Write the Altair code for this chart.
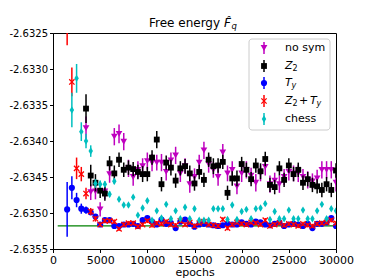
import altair as alt
import pandas as pd

# ---------------- data ----------------
ep_ty = list(range(1500, 30001, 500))
ep_z2ty = list(range(1500, 30001, 500))
ep_chess = list(range(2000, 30001, 500))
ep_z2 = list(range(3500, 30001, 500))
ep_nosym = list(range(3500, 30001, 500))

nosym_vals = [
    -2.63382, -2.63471, -2.63470, -2.63495, -2.63470, -2.63446, -2.63394, -2.63390, -2.63401, -2.63438,
    -2.63450, -2.63440, -2.63435, -2.63428, -2.63430, -2.63430, -2.63430, -2.63443, -2.63427, -2.63420,
    -2.63445, -2.63435, -2.63460, -2.63450, -2.63430, -2.63413, -2.63432, -2.63440, -2.63450, -2.63416,
    -2.63445, -2.63440, -2.63463, -2.63445, -2.63440, -2.63448, -2.63458, -2.63445, -2.63436, -2.63460,
    -2.63455, -2.63460, -2.63450, -2.63443, -2.63445, -2.63445, -2.63450, -2.63454, -2.63456, -2.63452,
    -2.63440, -2.63440, -2.63440, -2.63458]
nosym_err = [
    0.00016, 0.00011, 0.00011, 0.00010, 0.00011, 0.00012, 0.00012, 0.00013, 0.00012, 0.00012,
    0.00012, 0.00012, 0.00011, 0.00012, 0.00012, 0.00011, 0.00012, 0.00012, 0.00011, 0.00012,
    0.00012, 0.00011, 0.00012, 0.00012, 0.00011, 0.00012, 0.00012, 0.00011, 0.00012, 0.00012,
    0.00011, 0.00012, 0.00011, 0.00012, 0.00012, 0.00011, 0.00012, 0.00011, 0.00012, 0.00012,
    0.00011, 0.00012, 0.00011, 0.00012, 0.00011, 0.00012, 0.00011, 0.00012, 0.00011, 0.00012,
    0.00012, 0.00012, 0.00012, 0.00012]

z2_vals = [
    -2.63355, -2.63448, -2.63458, -2.63469, -2.63473, -2.63431, -2.63445, -2.63426, -2.63440, -2.63437,
    -2.63439, -2.63443, -2.63446, -2.63446, -2.63423, -2.63398, -2.63460, -2.63430, -2.63437, -2.63455,
    -2.63438, -2.63435, -2.63445, -2.63459, -2.63443, -2.63454, -2.63426, -2.63435, -2.63434, -2.63429,
    -2.63472, -2.63452, -2.63452, -2.63432, -2.63440, -2.63453, -2.63434, -2.63442, -2.63425, -2.63461,
    -2.63464, -2.63438, -2.63454, -2.63434, -2.63446, -2.63440, -2.63458, -2.63453, -2.63461, -2.63463,
    -2.63468, -2.63460, -2.63468, -2.63441]
z2_err = [
    0.00020, 0.00015, 0.00012, 0.00010, 0.00010, 0.00010, 0.00011, 0.00010, 0.00010, 0.00010,
    0.00010, 0.00010, 0.00011, 0.00010, 0.00010, 0.00012, 0.00010, 0.00010, 0.00011, 0.00010,
    0.00010, 0.00010, 0.00011, 0.00010, 0.00010, 0.00010, 0.00010, 0.00011, 0.00010, 0.00010,
    0.00010, 0.00010, 0.00011, 0.00010, 0.00010, 0.00010, 0.00010, 0.00011, 0.00010, 0.00010,
    0.00010, 0.00010, 0.00010, 0.00010, 0.00010, 0.00010, 0.00010, 0.00010, 0.00010, 0.00010,
    0.00010, 0.00010, 0.00010, 0.00010]

ty_vals = [
    -2.63495, -2.63465, -2.63482, -2.63494, -2.63496, -2.63499, -2.63505, -2.63516, -2.63510, -2.63510,
    -2.63518, -2.63518, -2.63516, -2.63516, -2.63515, -2.63518, -2.63510, -2.63507, -2.63512, -2.63516,
    -2.63509, -2.63515, -2.63514, -2.63521, -2.63512, -2.63509, -2.63515, -2.63519, -2.63516, -2.63515,
    -2.63516, -2.63517, -2.63518, -2.63517, -2.63515, -2.63516, -2.63516, -2.63513, -2.63515, -2.63516,
    -2.63512, -2.63513, -2.63516, -2.63517, -2.63515, -2.63513, -2.63518, -2.63516, -2.63515, -2.63516,
    -2.63518, -2.63515, -2.63521, -2.63515, -2.63515, -2.63513, -2.63507, -2.63518]
ty_err = [
    0.00038, 0.00016, 0.00010, 0.00007, 0.00005, 0.00004, 0.00003, 0.00003, 0.00003, 0.00003,
    0.00003, 0.00003, 0.00003, 0.00003, 0.00003, 0.00003, 0.00003, 0.00003, 0.00003, 0.00003,
    0.00003, 0.00003, 0.00003, 0.00003, 0.00003, 0.00003, 0.00003, 0.00003, 0.00003, 0.00003,
    0.00003, 0.00003, 0.00003, 0.00003, 0.00003, 0.00003, 0.00003, 0.00003, 0.00003, 0.00003,
    0.00003, 0.00003, 0.00003, 0.00003, 0.00003, 0.00003, 0.00003, 0.00003, 0.00003, 0.00003,
    0.00003, 0.00003, 0.00003, 0.00003, 0.00003, 0.00003, 0.00003, 0.00003]

z2ty_vals = [
    -2.63220, -2.63318, -2.63438, -2.63446, -2.63473, -2.63498, -2.63508, -2.63516, -2.63511, -2.63511,
    -2.63512, -2.63522, -2.63516, -2.63514, -2.63514, -2.63519, -2.63516, -2.63511, -2.63517, -2.63514,
    -2.63515, -2.63512, -2.63516, -2.63517, -2.63511, -2.63516, -2.63513, -2.63518, -2.63514, -2.63512,
    -2.63516, -2.63517, -2.63518, -2.63509, -2.63521, -2.63516, -2.63513, -2.63515, -2.63516, -2.63513,
    -2.63514, -2.63516, -2.63510, -2.63518, -2.63516, -2.63514, -2.63517, -2.63515, -2.63516, -2.63518,
    -2.63515, -2.63517, -2.63518, -2.63515, -2.63514, -2.63513, -2.63510, -2.63514]
z2ty_err = [
    0.00047, 0.00020, 0.00015, 0.00010, 0.00008, 0.00005, 0.00004, 0.00003, 0.00003, 0.00003,
    0.00003, 0.00003, 0.00003, 0.00003, 0.00003, 0.00003, 0.00003, 0.00003, 0.00003, 0.00003,
    0.00003, 0.00003, 0.00003, 0.00003, 0.00003, 0.00003, 0.00003, 0.00003, 0.00003, 0.00003,
    0.00003, 0.00003, 0.00003, 0.00003, 0.00003, 0.00003, 0.00003, 0.00003, 0.00003, 0.00003,
    0.00003, 0.00003, 0.00003, 0.00003, 0.00003, 0.00003, 0.00003, 0.00003, 0.00003, 0.00003,
    0.00003, 0.00003, 0.00003, 0.00003, 0.00003, 0.00003, 0.00003, 0.00003]

chess_vals = [
    -2.63357, -2.63313, -2.63387, -2.63400, -2.63414, -2.63459, -2.63460, -2.63460, -2.63474, -2.63456,
    -2.63481, -2.63489, -2.63489, -2.63478, -2.63503, -2.63493, -2.63483, -2.63510, -2.63497, -2.63507,
    -2.63488, -2.63508, -2.63497, -2.63508, -2.63492, -2.63508, -2.63494, -2.63510, -2.63510, -2.63510,
    -2.63494, -2.63494, -2.63494, -2.63509, -2.63489, -2.63509, -2.63498, -2.63495, -2.63508, -2.63494,
    -2.63493, -2.63487, -2.63509, -2.63498, -2.63508, -2.63508, -2.63496, -2.63508, -2.63508, -2.63496,
    -2.63508, -2.63508, -2.63497, -2.63488, -2.63508, -2.63494, -2.63497]
chess_err = [
    0.00024, 0.00020, 0.00013, 0.00010, 0.00008, 0.00006, 0.00005, 0.00004, 0.00004, 0.00004,
    0.00003, 0.00003, 0.00003, 0.00003, 0.00003, 0.00003, 0.00003, 0.00003, 0.00003, 0.00003,
    0.00003, 0.00003, 0.00003, 0.00003, 0.00003, 0.00003, 0.00003, 0.00003, 0.00003, 0.00003,
    0.00003, 0.00003, 0.00003, 0.00003, 0.00003, 0.00003, 0.00003, 0.00003, 0.00003, 0.00003,
    0.00003, 0.00003, 0.00003, 0.00003, 0.00003, 0.00003, 0.00003, 0.00003, 0.00003, 0.00003,
    0.00003, 0.00003, 0.00003, 0.00003, 0.00003, 0.00003, 0.00003]

ref_level = -2.63518
ref_start = 500
ref_end = 30000

x_ticks = [0, 5000, 10000, 15000, 20000, 25000, 30000]
y_ticks = [-2.6355, -2.6350, -2.6345, -2.6340, -2.6335, -2.6330, -2.6325]

# ---------------- styling ----------------
X_PATH = "M-1,-1L1,1M-1,1L1,-1"
DIAMOND_PATH = "M0,-1L0.6,0L0,1L-0.6,0Z"

series = [
    ("no sym", ep_nosym, nosym_vals, nosym_err, "#bf00bf", "triangle-down", True, 45),
    ("Z2", ep_z2, z2_vals, z2_err, "#000000", "square", True, 34),
    ("Ty", ep_ty, ty_vals, ty_err, "#0000ff", "circle", True, 38),
    ("Z2+Ty", ep_z2ty, z2ty_vals, z2ty_err, "#ff0000", X_PATH, False, 28),
    ("chess", ep_chess, chess_vals, chess_err, "#00bfbf", DIAMOND_PATH, True, 55),
]

FONT = "DejaVu Sans"
Y_SCALE = alt.Scale(domain=[-2.6355, -2.6325], nice=False, zero=False)
Y_AXIS = alt.Axis(values=y_ticks, title=None, labelFontSize=10,
                  labelOverlap=False, labelFlush=False, labelBound=False,
                  labelExpr="'-' + format(abs(datum.value), '.4f')")

x_enc = alt.X("epoch:Q", scale=alt.Scale(domain=[0, 30000], nice=False),
              axis=alt.Axis(values=x_ticks, format="d", title="epochs", titlePadding=1,
                            labelOverlap=False, labelFlush=False, labelBound=False))
y_enc = alt.Y("value:Q", scale=Y_SCALE, axis=Y_AXIS)

ref_df = pd.DataFrame({"epoch": [ref_start], "epoch2": [ref_end], "value": [ref_level]})
layers = [
    alt.Chart(ref_df).mark_rule(color="#008000", strokeWidth=1.2, clip=True).encode(
        x=x_enc, x2="epoch2:Q", y=y_enc)
]

for name, eps, vals, errs, color, shape, filled, size in series:
    df = pd.DataFrame({"epoch": eps, "value": vals, "err": errs})
    base = alt.Chart(df).transform_calculate(
        lo="datum.value - datum.err", hi="datum.value + datum.err")
    layers.append(base.mark_rule(color=color, strokeWidth=1.5, clip=True).encode(
        x=x_enc, y=alt.Y("lo:Q", scale=Y_SCALE, axis=Y_AXIS), y2="hi:Q"))
    if filled:
        pt = base.mark_point(shape=shape, filled=True, color=color, size=size, opacity=1, clip=True)
    else:
        pt = base.mark_point(shape=shape, filled=False, color=color, size=size, opacity=1,
                             strokeWidth=1.3, clip=True)
    layers.append(pt.encode(x=x_enc, y=y_enc))

# ---------------- legend & title (pixel-placed decorations) ----------------
one = pd.DataFrame({"k": [0]})

def txt(s, x, y, size=11, italic=False, align="left"):
    kw = dict(text=s, align=align, baseline="middle", font=FONT, fontSize=size, color="black")
    if italic:
        kw["fontStyle"] = "italic"
    return alt.Chart(one).mark_text(**kw).encode(x=alt.value(x), y=alt.value(y))

layers.append(alt.Chart(one).mark_rect(fill="white", fillOpacity=0.8, stroke="#cccccc",
                                       strokeWidth=1, cornerRadius=3).encode(
    x=alt.value(196), x2=alt.value(277), y=alt.value(6), y2=alt.value(97)))

row_y = [15, 33, 50, 68, 86]
for (name, eps, vals, errs, color, shape, filled, size), yy in zip(series, row_y):
    layers.append(alt.Chart(one).mark_rule(color=color, strokeWidth=1.5).encode(
        x=alt.value(211), y=alt.value(yy - 6), y2=alt.value(yy + 6)))
    if filled:
        p = alt.Chart(one).mark_point(shape=shape, filled=True, color=color, size=size, opacity=1)
    else:
        p = alt.Chart(one).mark_point(shape=shape, filled=False, color=color, size=size,
                                      opacity=1, strokeWidth=1.3)
    layers.append(p.encode(x=alt.value(211), y=alt.value(yy)))

layers += [
    txt("no sym", 232, row_y[0]),
    txt("Z", 232, row_y[1], italic=True), txt("2", 239.5, row_y[1] + 3, size=8),
    txt("T", 232, row_y[2], italic=True), txt("y", 238.5, row_y[2] + 3, size=8, italic=True),
    txt("Z", 232, row_y[3], italic=True), txt("2", 239.5, row_y[3] + 3, size=8),
    txt("+", 246, row_y[3]), txt("T", 257, row_y[3], italic=True),
    txt("y", 263.5, row_y[3] + 3, size=8, italic=True),
    txt("chess", 232, row_y[4]),
    # title
    txt("Free energy ", 96, -10, size=12),
    txt("F\u0302", 171, -10, size=12, italic=True),
    txt("q", 178.5, -7, size=8.5, italic=True),
]

chart = alt.layer(*layers).properties(
    width=283, height=216,
    autosize=alt.AutoSizeParams(type="none"),
    padding={"left": 45, "top": 25, "right": 30, "bottom": 40},
).configure_view(stroke="black", strokeWidth=1).configure_axis(
    labelFont=FONT, labelFontSize=11, titleFont=FONT, titleFontSize=11,
    titleFontWeight="normal", domainColor="black", tickColor="black",
    labelColor="black", titleColor="black", grid=False, tickSize=3.5, labelPadding=2,
    labelOverlap=False,
)

chart.save("out.html", embed_options={"renderer": "svg", "actions": False})
